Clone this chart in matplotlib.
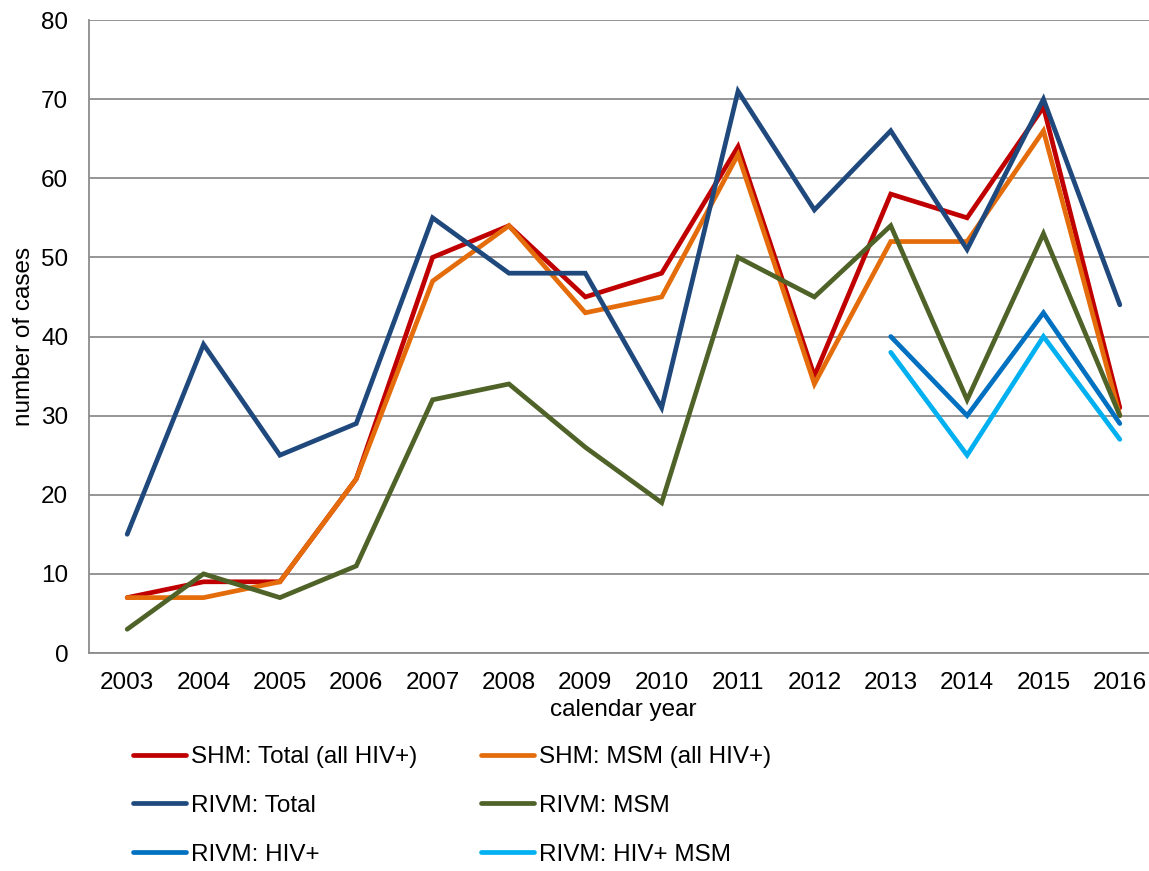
import numpy as np
import matplotlib.pyplot as plt

plt.rcParams['font.family'] = ['Liberation Sans', 'DejaVu Sans']

years = ['2003', '2004', '2005', '2006', '2007', '2008', '2009',
         '2010', '2011', '2012', '2013', '2014', '2015', '2016']

shm_total = [7, 9, 9, 22, 50, 54, 45, 48, 64, 35, 58, 55, 69, 31]
shm_msm = [7, 7, 9, 22, 47, 54, 43, 45, 63, 34, 52, 52, 66, 30]
rivm_total = [15, 39, 25, 29, 55, 48, 48, 31, 71, 56, 66, 51, 70, 44]
rivm_msm = [3, 10, 7, 11, 32, 34, 26, 19, 50, 45, 54, 32, 53, 30]
# HIV+ series only start in 2013
rivm_hiv = [np.nan] * 10 + [40, 30, 43, 29]
rivm_hiv_msm = [np.nan] * 10 + [38, 25, 40, 27]

series = [
    ('SHM: Total (all HIV+)', shm_total, '#C00000'),
    ('SHM: MSM (all HIV+)', shm_msm, '#E46C0A'),
    ('RIVM: Total', rivm_total, '#1F497D'),
    ('RIVM: MSM', rivm_msm, '#4F6228'),
    ('RIVM: HIV+', rivm_hiv, '#0070C0'),
    ('RIVM: HIV+ MSM', rivm_hiv_msm, '#00B0F0'),
]

FS = 17.5

fig = plt.figure(figsize=(11.49, 8.71), dpi=100)
W, H = 1149, 871
ax = fig.add_axes([89 / W, 1 - 653 / H, (1158 - 89) / W, (653 - 20) / H])

x = np.arange(len(years))
handles = []
for label, vals, col in series:
    h, = ax.plot(x, vals, color=col, lw=3.4, label=label,
                 solid_capstyle='round', solid_joinstyle='miter')
    handles.append(h)

ax.set_xlim(-0.5, len(years) - 0.5)
ax.set_ylim(0, 80)
ax.set_yticks(range(0, 81, 10))
ax.set_xticks(x)
ax.set_xticklabels(years)
ax.yaxis.grid(True, color='#8c8c8c', lw=1.3)
ax.set_axisbelow(True)
ax.tick_params(length=0, labelsize=FS)
ax.tick_params(axis='y', pad=15)
ax.tick_params(axis='x', pad=14)

for s in ['top', 'right']:
    ax.spines[s].set_visible(False)
for s in ['left', 'bottom']:
    ax.spines[s].set_color('#8c8c8c')
    ax.spines[s].set_linewidth(1.3)

ax.set_xlabel('calendar year', fontsize=FS, labelpad=3)
ax.set_ylabel('number of cases', fontsize=FS, labelpad=4)

# legend fills by column, so reorder to read row by row
order = [0, 2, 4, 1, 3, 5]
fig.legend([handles[i] for i in order], [series[i][0] for i in order],
           loc='upper left', bbox_to_anchor=(133 / W, 1 - 746 / H), ncol=2,
           frameon=False, fontsize=FS, handlelength=2.2, handletextpad=0.2,
           columnspacing=2.6, labelspacing=1.1, borderaxespad=0,
           borderpad=0)

fig.savefig('out.png', dpi=100)
